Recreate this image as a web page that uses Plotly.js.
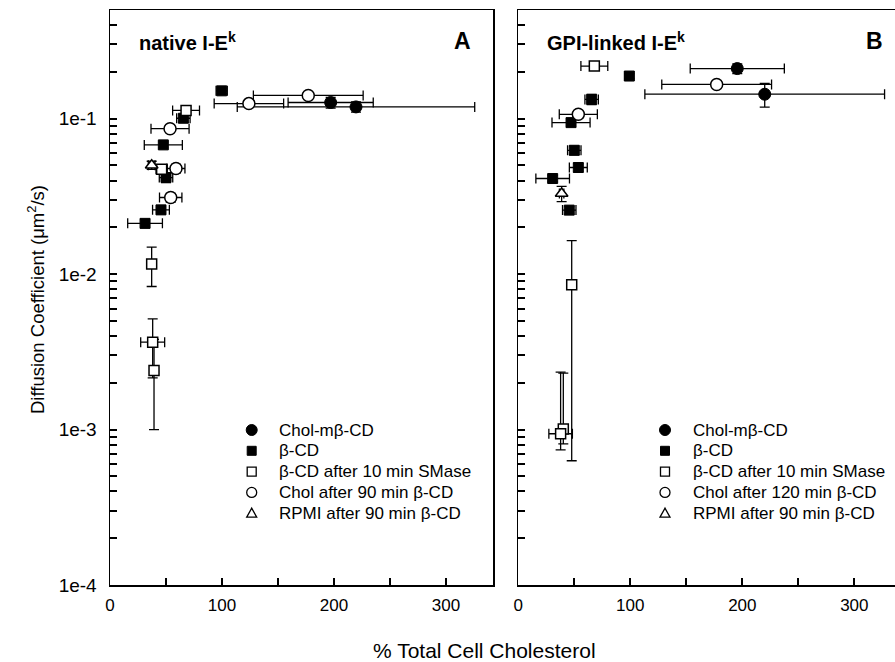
<!DOCTYPE html>
<html>
<head>
<meta charset="utf-8">
<script src="https://cdn.plot.ly/plotly-3.0.1.min.js"></script>
<style>html,body{margin:0;padding:0;background:#fff;}#chart{width:895px;height:662px;}</style>
</head>
<body>
<div id="chart"></div>
<script>
// ---------- Panel A: native I-E^k ----------
const aCholX = [197, 219.6];
const aCholY = [0.127, 0.119];
const aCholEX = [38, 106];
const aCholEY = [0.010, 0.009];

const aBcdX = [99.7, 65.5, 47.6, 50, 45.5, 31.3];
const aBcdY = [0.151, 0.1006, 0.0678, 0.0418, 0.0259, 0.0212];
const aBcdEX = [5, 6, 17, 6, 7.5, 15.5];
const aBcdEY = [0.006, 0.006, 0.003, 0.003, 0.0015, 0.0013];

const aSmX = [67.9, 46.1, 37.2, 38.1, 39.3];
const aSmY = [0.113, 0.0473, 0.01162, 0.00365, 0.0024];
const aSmEX = [12, 5, 2, 10.7, 2];
const aSmEY = [0.007, 0.003, 0.0033, 0.0015, 0.0014];

const aCholBX = [124, 177, 53.6, 58.9, 54.2];
const aCholBY = [0.125, 0.141, 0.0862, 0.0478, 0.0311];
const aCholBEX = [31, 49, 17, 8, 10];
const aCholBEY = [0.006, 0.006, 0.004, 0.003, 0.002];

const aRpmiX = [37.2];
const aRpmiY = [0.0502];
const aRpmiEX = [3];
const aRpmiEY = [0.003];

// ---------- Panel B: GPI-linked I-E^k ----------
const bCholX = [195.5, 220];
const bCholY = [0.21, 0.1436];
const bCholEX = [42, 107];
const bCholEY = [0.015, 0.025];

const bBcdX = [99.1, 65.5, 47.1, 50, 53.6, 30.7, 45.5];
const bBcdY = [0.188, 0.133, 0.0943, 0.0626, 0.0485, 0.0412, 0.0258];
const bBcdEX = [4, 6, 17, 6, 8, 15, 6];
const bBcdEY = [0.007, 0.010, 0.005, 0.004, 0.003, 0.002, 0.0015];

const bSmX = [67.9, 47.7, 40.2, 37.8];
const bSmY = [0.218, 0.00853, 0.00101, 0.00094];
const bSmEX = [12, 2, 2, 10.5];
const bSmEYplus = [0.010, 0.0079, 0.0013, 0.0014];
const bSmEYminus = [0.010, 0.0079, 0.0002, 0.0002];

const bCholBX = [177.1, 53.6];
const bCholBY = [0.166, 0.1067];
const bCholBEX = [49, 17];
const bCholBEY = [0.008, 0.006];

const bRpmiX = [38.7];
const bRpmiY = [0.033];
const bRpmiEX = [2];
const bRpmiEY = [0.0037];

// tick labels
const yTickVals = [1e-4, 1e-3, 1e-2, 1e-1];
const yTickText = ['1e-4', '1e-3', '1e-2', '1e-1'];
const xTickVals = [0, 50, 100, 150, 200, 250, 300];
const xTickText = ['0', '', '100', '', '200', '', '300'];

const names = ['Chol-m\u03b2-CD', '\u03b2-CD', '\u03b2-CD after 10 min SMase'];
const namesA = names.concat(['Chol after 90 min \u03b2-CD', 'RPMI after 90 min \u03b2-CD']);
const namesB = names.concat(['Chol after 120 min \u03b2-CD', 'RPMI after 90 min \u03b2-CD']);

const FONT = 'Liberation Sans, Arial, sans-serif';
const styles = [
  {symbol: 'circle', size: 12, color: '#000', line: {color: '#000', width: 1}},
  {symbol: 'square', size: 10, color: '#000', line: {color: '#000', width: 1}},
  {symbol: 'square', size: 10, color: '#fff', line: {color: '#000', width: 1.5}},
  {symbol: 'circle', size: 12, color: '#fff', line: {color: '#000', width: 1.5}},
  {symbol: 'triangle-up', size: 11, color: '#fff', line: {color: '#000', width: 1.5}}
];

function tr(x, y, ex, eyp, eym, k, name, panel) {
  return {
    type: 'scatter', mode: 'markers', x: x, y: y, name: name, showlegend: false,
    xaxis: panel === 'A' ? 'x' : 'x2', yaxis: panel === 'A' ? 'y' : 'y2',
    marker: styles[k],
    error_x: {type: 'data', array: ex, visible: true, color: '#000', thickness: 1.3, width: 5},
    error_y: {type: 'data', array: eyp, arrayminus: eym, symmetric: eym ? false : true, visible: true, color: '#000', thickness: 1.3, width: 5},
    cliponaxis: false
  };
}

const data = [
  tr(aCholX, aCholY, aCholEX, aCholEY, null, 0, namesA[0], 'A'),
  tr(aBcdX, aBcdY, aBcdEX, aBcdEY, null, 1, namesA[1], 'A'),
  tr(aSmX, aSmY, aSmEX, aSmEY, null, 2, namesA[2], 'A'),
  tr(aCholBX, aCholBY, aCholBEX, aCholBEY, null, 3, namesA[3], 'A'),
  tr(aRpmiX, aRpmiY, aRpmiEX, aRpmiEY, null, 4, namesA[4], 'A'),
  tr(bCholX, bCholY, bCholEX, bCholEY, null, 0, namesB[0], 'B'),
  tr(bBcdX, bBcdY, bBcdEX, bBcdEY, null, 1, namesB[1], 'B'),
  tr(bSmX, bSmY, bSmEX, bSmEYplus, bSmEYminus, 2, namesB[2], 'B'),
  tr(bCholBX, bCholBY, bCholBEX, bCholBEY, null, 3, namesB[3], 'B'),
  tr(bRpmiX, bRpmiY, bRpmiEX, bRpmiEY, null, 4, namesB[4], 'B')
];

// log ticks: decades labelled, 2..9 unlabelled
const yAllVals = [], yAllText = [];
for (let e = -4; e <= -1; e++) for (let m = 1; m <= 9; m++) {
  const v = m * Math.pow(10, e);
  if (v <= 0.5) { yAllVals.push(v); yAllText.push(m === 1 ? yTickText[yTickVals.indexOf(Math.pow(10, e))] : ''); }
}

const yRange = [-4, Math.log10(0.5)];
const xRangeA = [0, 342.2], xRangeB = [0, 336.3];
const domA = [0, 0.4883], domB = [0.5201, 1];
function xAxis(domain, range, anchor) {
  return {
    domain: domain, range: range, anchor: anchor, tickmode: 'array', tickvals: xTickVals, ticktext: xTickText,
    ticks: 'inside', ticklen: 7, tickwidth: 2, tickcolor: '#000',
    showline: true, linecolor: '#000', linewidth: 1.5, mirror: true, layer: 'above traces',
    showgrid: false, zeroline: false, tickfont: {family: FONT, size: 17, color: '#000'},
    ticklabelstandoff: 4
  };
}
function yAxis(anchor, labels, mirror) {
  return {
    type: 'log', range: yRange, anchor: anchor, tickmode: 'array', tickvals: yAllVals, ticktext: yAllText,
    showticklabels: labels, ticks: 'inside', ticklen: 7, tickwidth: 2, tickcolor: '#000',
    showline: true, linecolor: '#000', linewidth: 1.5, mirror: mirror, layer: 'above traces',
    showgrid: false, zeroline: false,
    tickfont: {family: FONT, size: 19, color: '#000'}, ticklabelstandoff: 8
  };
}

// legend drawn as shapes + annotations (pixel positions converted to paper coords)
const PL = 110, PW = 785, PT = 10, PH = 575;
const px2x = p => (p - PL) / PW;
const py2y = p => (PT + PH - p) / PH;
const legRows = [430, 450.8, 471.6, 492.4, 513.2];
function legendItems(symX, textX, labels) {
  const shapes = [], ann = [];
  legRows.forEach((ry, i) => {
    const base = {xref: 'paper', yref: 'paper', xsizemode: 'pixel', ysizemode: 'pixel',
      xanchor: px2x(symX), yanchor: py2y(ry)};
    if (i === 0) shapes.push(Object.assign({type: 'circle', x0: -5.5, x1: 5.5, y0: -5.5, y1: 5.5, fillcolor: '#000', line: {color: '#000', width: 1}}, base));
    if (i === 1) shapes.push(Object.assign({type: 'rect', x0: -4.5, x1: 4.5, y0: -4.5, y1: 4.5, fillcolor: '#000', line: {color: '#000', width: 1}}, base));
    if (i === 2) shapes.push(Object.assign({type: 'rect', x0: -4.5, x1: 4.5, y0: -4.5, y1: 4.5, fillcolor: '#fff', line: {color: '#000', width: 1.3}}, base));
    if (i === 3) shapes.push(Object.assign({type: 'circle', x0: -5, x1: 5, y0: -5, y1: 5, fillcolor: '#fff', line: {color: '#000', width: 1.3}}, base));
    if (i === 4) shapes.push(Object.assign({type: 'path', path: 'M-5,-4 L5,-4 L0,5 Z', fillcolor: '#fff', line: {color: '#000', width: 1.3}}, base));
    ann.push({xref: 'paper', yref: 'paper', x: px2x(textX), y: py2y(ry), xanchor: 'left', yanchor: 'middle',
      showarrow: false, text: labels[i], font: {family: FONT, size: 17, color: '#000'}});
  });
  return {shapes, ann};
}
const legA = legendItems(251.7, 277, namesA);
const legB = legendItems(665, 691, namesB);

const layout = {
  width: 895, height: 662,
  margin: {l: PL, r: 0, t: PT, b: 662 - PT - PH},
  paper_bgcolor: '#fff', plot_bgcolor: '#fff',
  font: {family: FONT, color: '#000'},
  showlegend: false,
  xaxis: xAxis(domA, xRangeA, 'y'),
  xaxis2: xAxis(domB, xRangeB, 'y2'),
  yaxis: yAxis('x', true, true),
  yaxis2: yAxis('x2', false, false),
  shapes: legA.shapes.concat(legB.shapes),
  annotations: [
    {xref: 'x', yref: 'paper', x: 24.4, y: 0.946, xanchor: 'left', yanchor: 'middle', showarrow: false,
     text: '<b>native I-E<sup>k</sup></b>', font: {family: FONT, size: 20, color: '#000'}},
    {xref: 'x', yref: 'paper', x: 314.7, y: 0.946, xanchor: 'center', yanchor: 'middle', showarrow: false,
     text: '<b>A</b>', font: {family: FONT, size: 23, color: '#000'}},
    {xref: 'x2', yref: 'paper', x: 23.8, y: 0.946, xanchor: 'left', yanchor: 'middle', showarrow: false,
     text: '<b>GPI-linked I-E<sup>k</sup></b>', font: {family: FONT, size: 20, color: '#000'}},
    {xref: 'x2', yref: 'paper', x: 317.6, y: 0.946, xanchor: 'center', yanchor: 'middle', showarrow: false,
     text: '<b>B</b>', font: {family: FONT, size: 23, color: '#000'}},
    {xref: 'paper', yref: 'paper', x: px2x(484), y: py2y(650), xanchor: 'center', yanchor: 'middle', showarrow: false,
     text: '% Total Cell Cholesterol', font: {family: FONT, size: 21, color: '#000'}},
    {xref: 'paper', yref: 'paper', x: px2x(36), y: py2y(300), xanchor: 'center', yanchor: 'middle', showarrow: false,
     textangle: -90, text: 'Diffusion Coefficient (\u03bcm<sup>2</sup>/s)', font: {family: FONT, size: 18.5, color: '#000'}}
  ].concat(legA.ann, legB.ann)
};

Plotly.newPlot('chart', data, layout, {displayModeBar: false, staticPlot: true});
</script>
</body>
</html>
